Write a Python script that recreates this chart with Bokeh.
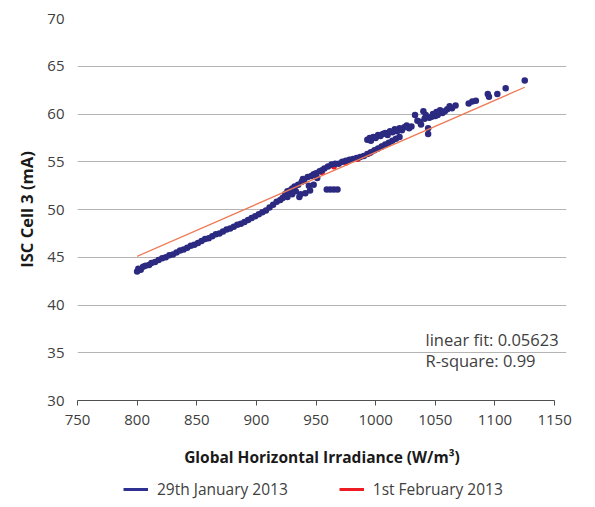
from bokeh.plotting import figure
from bokeh.layouts import column
from bokeh.models import (ColumnDataSource, FixedTicker, Legend, LegendItem, Label, Range1d)
from bokeh.embed import file_html
from bokeh.resources import INLINE

# ---- data ----
jan_x = [800, 801, 803, 805, 807, 810, 812, 815, 818, 821, 824, 827, 830, 833, 836, 839,
         842, 845, 848, 851, 854, 857, 860, 863, 866, 869, 872, 875, 878, 881, 884, 887,
         890, 893, 896, 899, 902, 905, 908, 911, 914, 917, 920,
         922, 924, 926, 926, 928, 930, 930, 932, 933, 935, 936, 937, 938, 939, 940, 941,
         943, 944, 945, 946, 948, 948, 950, 951, 953, 955, 957,
         959, 962, 965, 968,
         960, 963, 966, 969, 972, 975, 978, 981, 984, 987, 990, 993, 996, 999, 1002, 1005,
         1008, 1011, 1014, 1017, 1020,
         993, 995, 996, 998, 1000, 1002, 1004, 1006, 1008, 1010, 1012, 1014, 1016, 1018,
         1020, 1022, 1024, 1026, 1028, 1030,
         1033, 1035, 1037, 1038, 1040, 1041, 1042, 1044, 1044, 1045, 1047, 1048, 1050,
         1051, 1052, 1054, 1056, 1058, 1060, 1062, 1064, 1067,
         1078, 1081, 1084, 1094, 1095, 1102, 1109, 1125]
jan_y = [43.5, 43.8, 43.7, 44.0, 44.1, 44.2, 44.4, 44.5, 44.7, 44.9, 45.0, 45.2, 45.3, 45.5,
         45.7, 45.8, 46.0, 46.2, 46.3, 46.5, 46.7, 46.9, 47.0, 47.2, 47.4, 47.5, 47.7, 47.9,
         48.0, 48.2, 48.4, 48.5, 48.7, 48.9, 49.1, 49.3, 49.5, 49.7, 49.9, 50.2, 50.5, 50.8,
         51.0,
         51.2, 51.6, 51.9, 51.3, 52.0, 52.2, 51.6, 52.4, 51.9, 52.6, 51.3, 51.6, 52.9, 53.2,
         53.0, 51.7, 53.4, 52.5, 52.0, 53.5, 53.7, 52.6, 53.8, 53.3, 54.0, 54.1, 54.3,
         52.1, 52.1, 52.1, 52.1,
         54.5, 54.7, 54.8, 54.8, 55.0, 55.1, 55.2, 55.3, 55.4, 55.5, 55.6, 55.8, 56.0, 56.2,
         56.4, 56.6, 56.8, 57.0, 57.2, 57.4, 57.6,
         57.3, 57.5, 57.2, 57.6, 57.5, 57.8, 57.7, 57.9, 58.0, 57.8, 58.2, 58.1, 58.4, 58.2,
         58.5, 58.3, 58.6, 58.8, 58.5, 58.7,
         59.9, 59.3, 59.2, 58.9, 60.3, 59.5, 59.9, 58.5, 57.9, 59.6, 59.7, 60.0, 59.8,
         60.2, 59.9, 60.4, 60.1, 60.3, 60.5, 60.8, 60.6, 60.9,
         61.1, 61.3, 61.4, 62.1, 61.8, 62.1, 62.7, 63.5]

feb_x = [955, 965, 975, 985, 995, 1005]
feb_y = [53.9, 54.5, 54.9, 55.3, 55.9, 56.6]

fit_x = [800, 1125]
fit_y = [45.1, 62.8]

x_ticks = [750, 800, 850, 900, 950, 1000, 1050, 1100, 1150]
y_ticks = [30, 35, 40, 45, 50, 55, 60, 65, 70]

FONT = "Open Sans"
BLUE = "#2b2a80"
RED = "#ed1c24"

p = figure(width=587, height=470, output_backend="svg", toolbar_location=None,
           x_range=(750, 1160), y_range=(30, 70),
           min_border_left=77, min_border_right=21, min_border_top=18, min_border_bottom=67)
p.outline_line_color = None
p.background_fill_color = "white"

# grid
p.xgrid.grid_line_color = None
p.ygrid.grid_line_color = "#b4b4b4"
p.ygrid.grid_line_width = 1
p.ygrid.ticker = FixedTicker(ticks=y_ticks)

# x axis
xa = p.xaxis[0]
xa.ticker = FixedTicker(ticks=x_ticks)
xa.bounds = (750, 1150)
xa.axis_line_color = "#505050"
xa.major_tick_line_color = "#505050"
xa.major_tick_in = 0
xa.major_tick_out = 5
xa.minor_tick_line_color = None
xa.major_label_text_font = FONT
xa.major_label_text_font_size = "15px"
xa.major_label_text_color = "#404040"
xa.major_label_standoff = 9
xa.axis_label = "Global Horizontal Irradiance (W/m³)"
xa.axis_label_text_font = FONT
xa.axis_label_text_font_style = "bold"
xa.axis_label_text_font_size = "15.5px"
xa.axis_label_text_color = "#1a1a1a"
xa.axis_label_standoff = 18

# y axis
ya = p.yaxis[0]
ya.ticker = FixedTicker(ticks=y_ticks)
ya.axis_line_color = None
ya.major_tick_line_color = None
ya.minor_tick_line_color = None
ya.major_label_text_font = FONT
ya.major_label_text_font_size = "15px"
ya.major_label_text_color = "#404040"
ya.major_label_standoff = 7
ya.axis_label = "ISC Cell 3 (mA)"
ya.axis_label_text_font = FONT
ya.axis_label_text_font_style = "bold"
ya.axis_label_text_font_size = "16.5px"
ya.axis_label_text_color = "#1a1a1a"
ya.axis_label_standoff = 6

# data
feb_src = ColumnDataSource(dict(x=feb_x, y=feb_y))
jan_src = ColumnDataSource(dict(x=jan_x, y=jan_y))
p.scatter("x", "y", source=feb_src, size=6, fill_color=RED, line_color=None)
p.scatter("x", "y", source=jan_src, size=6.5, fill_color=BLUE, line_color=None)
p.line(fit_x, fit_y, line_color="#ef7a55", line_width=1.3)

# annotation
p.add_layout(Label(x=1041.8, y=36.34, text="linear fit: 0.05623", text_font=FONT,
                   text_font_size="16.5px", text_color="#404040", text_baseline="middle"))
p.add_layout(Label(x=1041.8, y=34.16, text="R-square: 0.99", text_font=FONT,
                   text_font_size="16.5px", text_color="#404040", text_baseline="middle"))

# legend strip below the chart (series lines kept out of its visible range)
q = figure(width=587, height=30, output_backend="svg", toolbar_location=None,
           x_range=Range1d(0, 1), y_range=Range1d(0, 1),
           x_axis_location=None, y_axis_location=None,
           min_border_left=0, min_border_right=0, min_border_top=0, min_border_bottom=0)
q.outline_line_color = None
q.xgrid.grid_line_color = None
q.ygrid.grid_line_color = None
leg_jan = q.line("x", "y", source=jan_src, line_color="#2e3192", line_width=3)
leg_feb = q.line("x", "y", source=feb_src, line_color=RED, line_width=3)
legend = Legend(items=[LegendItem(label="29th January 2013", renderers=[leg_jan]),
                       LegendItem(label="1st February 2013", renderers=[leg_feb])],
                orientation="horizontal", location=(46, 0),
                label_text_font=FONT, label_text_font_size="15.5px", label_text_color="#404040",
                glyph_width=25, glyph_height=16, label_height=16, label_standoff=9,
                spacing=51, padding=0, margin=0, border_line_color=None,
                background_fill_alpha=0)
q.add_layout(legend, "center")

open("out.html", "w").write(file_html(column(p, q, spacing=0), INLINE))
